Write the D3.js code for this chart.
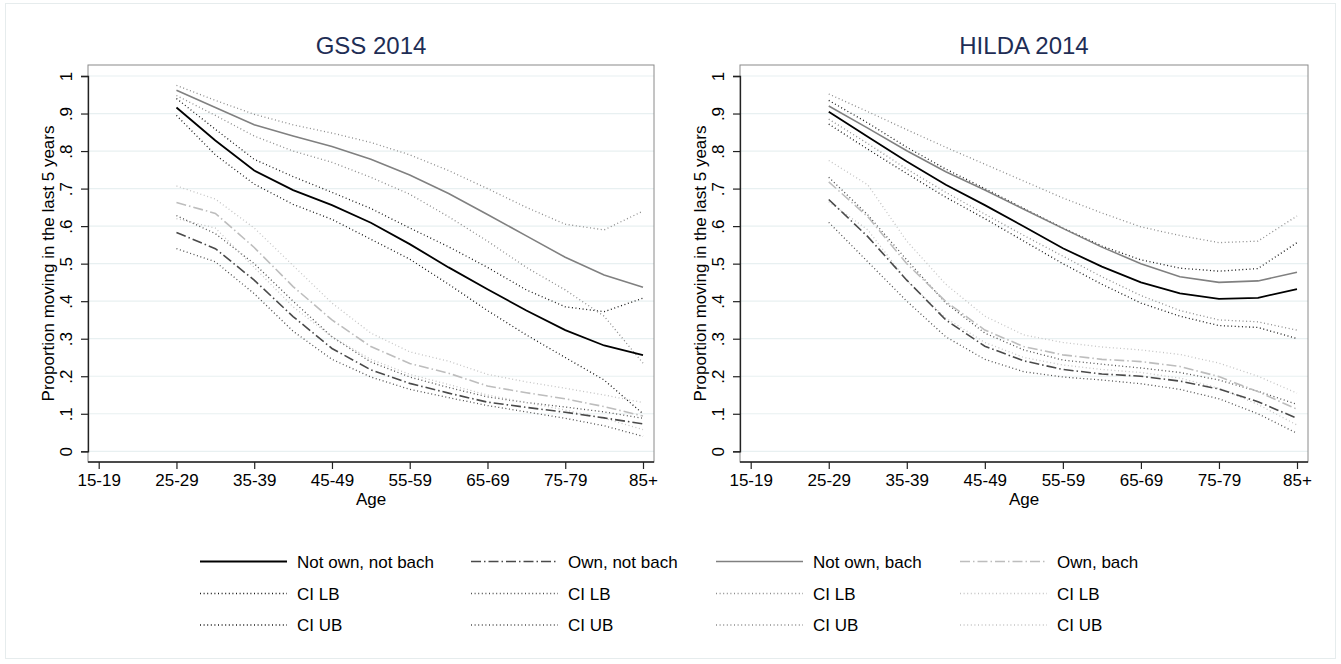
<!DOCTYPE html>
<html>
<head>
<meta charset="utf-8">
<script src="https://cdn.jsdelivr.net/npm/d3@7"></script>
<style>
  html, body { margin: 0; padding: 0; background: #fff; }
  text { font-family: "Liberation Sans", Arial, Helvetica, sans-serif; }
</style>
</head>
<body>
<svg id="chart" width="1341" height="664"></svg>
<script>
// age groups on the x axis (data starts at 25-29)
const ageGroups = ['15-19', '20-24', '25-29', '30-34', '35-39', '40-44', '45-49', '50-54',
  '55-59', '60-64', '65-69', '70-74', '75-79', '80-84', '85+'];
const tickAges = ['15-19', '25-29', '35-39', '45-49', '55-59', '65-69', '75-79', '85+'];
const obsAges = ['25-29', '30-34', '35-39', '40-44', '45-49', '50-54', '55-59',
  '60-64', '65-69', '70-74', '75-79', '80-84', '85+'];
const yTicks = [0, 0.1, 0.2, 0.3, 0.4, 0.5, 0.6, 0.7, 0.8, 0.9, 1];

const seriesNames = ['Not own, not bach', 'Own, not bach', 'Not own, bach', 'Own, bach'];

// GSS 2014
const gssNotOwnNotBach   = [0.916, 0.828, 0.748, 0.696, 0.656, 0.609, 0.552, 0.490, 0.432, 0.375, 0.323, 0.282, 0.256];
const gssNotOwnNotBachLB = [0.895, 0.790, 0.712, 0.658, 0.618, 0.565, 0.512, 0.445, 0.375, 0.310, 0.250, 0.190, 0.100];
const gssNotOwnNotBachUB = [0.940, 0.858, 0.778, 0.732, 0.690, 0.647, 0.595, 0.545, 0.490, 0.430, 0.385, 0.372, 0.408];
const gssOwnNotBach      = [0.583, 0.540, 0.456, 0.359, 0.274, 0.217, 0.181, 0.155, 0.131, 0.117, 0.104, 0.089, 0.073];
const gssOwnNotBachLB    = [0.540, 0.505, 0.420, 0.320, 0.245, 0.198, 0.165, 0.143, 0.122, 0.105, 0.088, 0.068, 0.040];
const gssOwnNotBachUB    = [0.628, 0.580, 0.500, 0.400, 0.305, 0.238, 0.198, 0.170, 0.145, 0.130, 0.118, 0.105, 0.088];
const gssNotOwnBach      = [0.962, 0.916, 0.870, 0.840, 0.812, 0.778, 0.736, 0.687, 0.631, 0.574, 0.517, 0.470, 0.437];
const gssNotOwnBachLB    = [0.948, 0.895, 0.840, 0.800, 0.770, 0.730, 0.685, 0.625, 0.560, 0.490, 0.430, 0.360, 0.235];
const gssNotOwnBachUB    = [0.975, 0.935, 0.898, 0.870, 0.848, 0.823, 0.790, 0.748, 0.700, 0.650, 0.605, 0.590, 0.640];
const gssOwnBach         = [0.663, 0.634, 0.543, 0.439, 0.350, 0.279, 0.234, 0.208, 0.174, 0.156, 0.140, 0.119, 0.094];
const gssOwnBachLB       = [0.620, 0.595, 0.490, 0.385, 0.305, 0.245, 0.205, 0.178, 0.150, 0.130, 0.110, 0.088, 0.058];
const gssOwnBachUB       = [0.707, 0.672, 0.595, 0.495, 0.395, 0.315, 0.265, 0.240, 0.205, 0.185, 0.168, 0.150, 0.130];

// HILDA 2014
const hildaNotOwnNotBach   = [0.905, 0.838, 0.772, 0.710, 0.656, 0.599, 0.541, 0.492, 0.450, 0.421, 0.406, 0.409, 0.432];
const hildaNotOwnNotBachLB = [0.872, 0.805, 0.740, 0.677, 0.620, 0.560, 0.500, 0.445, 0.395, 0.360, 0.335, 0.330, 0.300];
const hildaNotOwnNotBachUB = [0.935, 0.875, 0.810, 0.752, 0.700, 0.647, 0.595, 0.547, 0.510, 0.488, 0.480, 0.487, 0.556];
const hildaOwnNotBach      = [0.671, 0.572, 0.456, 0.350, 0.280, 0.241, 0.218, 0.206, 0.200, 0.187, 0.166, 0.132, 0.088];
const hildaOwnNotBachLB    = [0.610, 0.505, 0.400, 0.305, 0.245, 0.212, 0.198, 0.190, 0.180, 0.165, 0.140, 0.100, 0.048];
const hildaOwnNotBachUB    = [0.730, 0.630, 0.510, 0.395, 0.315, 0.270, 0.243, 0.232, 0.222, 0.210, 0.190, 0.160, 0.125];
const hildaNotOwnBach      = [0.920, 0.861, 0.801, 0.745, 0.696, 0.645, 0.594, 0.544, 0.500, 0.465, 0.450, 0.454, 0.477];
const hildaNotOwnBachLB    = [0.885, 0.820, 0.752, 0.690, 0.632, 0.575, 0.520, 0.465, 0.415, 0.375, 0.350, 0.345, 0.323];
const hildaNotOwnBachUB    = [0.952, 0.905, 0.857, 0.810, 0.765, 0.720, 0.675, 0.635, 0.598, 0.575, 0.556, 0.560, 0.627];
const hildaOwnBach         = [0.718, 0.625, 0.500, 0.399, 0.323, 0.279, 0.257, 0.245, 0.239, 0.226, 0.199, 0.159, 0.112];
const hildaOwnBachLB       = [0.665, 0.590, 0.455, 0.355, 0.290, 0.250, 0.230, 0.218, 0.210, 0.195, 0.168, 0.125, 0.070];
const hildaOwnBachUB       = [0.775, 0.710, 0.560, 0.445, 0.360, 0.310, 0.290, 0.278, 0.270, 0.258, 0.235, 0.200, 0.155];

// styles, one per series (order matches seriesNames)
const lineStyles = [
  { color: '#000000', width: 1.8, dash: null },
  { color: '#4a4a4a', width: 1.6, dash: '10,3,1.5,3' },
  { color: '#808080', width: 1.6, dash: null },
  { color: '#bdbdbd', width: 1.6, dash: '10,3,1.5,3' }
];
const ciColors = ['#1a1a1a', '#505050', '#8c8c8c', '#c4c4c4'];
const ciDash = '1,2.6';
const titleColor = '#1e2d55';
const gridColor = '#e8f0f1';

const panels = [
  {
    title: 'GSS 2014', left: 88, right: 654,
    main: [gssNotOwnNotBach, gssOwnNotBach, gssNotOwnBach, gssOwnBach],
    lb: [gssNotOwnNotBachLB, gssOwnNotBachLB, gssNotOwnBachLB, gssOwnBachLB],
    ub: [gssNotOwnNotBachUB, gssOwnNotBachUB, gssNotOwnBachUB, gssOwnBachUB]
  },
  {
    title: 'HILDA 2014', left: 740, right: 1308,
    main: [hildaNotOwnNotBach, hildaOwnNotBach, hildaNotOwnBach, hildaOwnBach],
    lb: [hildaNotOwnNotBachLB, hildaOwnNotBachLB, hildaNotOwnBachLB, hildaOwnBachLB],
    ub: [hildaNotOwnNotBachUB, hildaOwnNotBachUB, hildaNotOwnBachUB, hildaOwnBachUB]
  }
];

const svg = d3.select('#chart');
const plotTop = 65, plotBottom = 462;

// faint outer border of the figure
svg.append('rect')
  .attr('x', 5.5).attr('y', 3.5)
  .attr('width', 1330).attr('height', 655)
  .attr('fill', 'none')
  .attr('stroke', '#e6eced');

const y = d3.scaleLinear().domain([0, 1]).range([451.3, 76]);
const fmt = v => v === 0 ? '0' : v === 1 ? '1' : '.' + Math.round(v * 10);

panels.forEach(p => {
  const x = d3.scalePoint().domain(ageGroups).range([p.left + 10.7, p.right - 11]);
  const g = svg.append('g');

  // grid lines
  g.append('g').selectAll('line')
    .data(yTicks)
    .enter()
    .append('line')
    .attr('x1', p.left).attr('x2', p.right)
    .attr('y1', d => y(d)).attr('y2', d => y(d))
    .attr('stroke', gridColor)
    .attr('stroke-width', 1.2);

  // plot frame
  g.append('rect')
    .attr('x', p.left).attr('y', plotTop)
    .attr('width', p.right - p.left).attr('height', plotBottom - plotTop)
    .attr('fill', 'none')
    .attr('stroke', '#8a8a8a')
    .attr('stroke-width', 1);

  const line = d3.line()
    .x((d, i) => x(obsAges[i]))
    .y(d => y(d));

  // confidence bounds (dotted)
  p.main.forEach((s, k) => {
    [p.lb[k], p.ub[k]].forEach(b => {
      g.append('path')
        .attr('d', line(b))
        .attr('fill', 'none')
        .attr('stroke', ciColors[k])
        .attr('stroke-width', 1.3)
        .attr('stroke-dasharray', ciDash);
    });
  });

  // main series
  p.main.forEach((s, k) => {
    const st = lineStyles[k];
    g.append('path')
      .attr('d', line(s))
      .attr('fill', 'none')
      .attr('stroke', st.color)
      .attr('stroke-width', st.width)
      .attr('stroke-dasharray', st.dash);
  });

  // y axis
  const yAxis = g.append('g')
    .attr('transform', `translate(${p.left},0)`)
    .call(d3.axisLeft(y).tickValues(yTicks).tickSize(7).tickFormat(fmt));
  yAxis.select('.domain').attr('stroke', '#222').attr('stroke-width', 1.3);
  yAxis.selectAll('.tick line').attr('stroke', '#222').attr('stroke-width', 1.2);
  yAxis.selectAll('.tick text')
    .attr('x', 0).attr('y', 0).attr('dy', null)
    .attr('transform', 'translate(-22,0) rotate(-90)')
    .attr('text-anchor', 'middle')
    .attr('dominant-baseline', 'central')
    .attr('font-size', 17)
    .attr('font-family', '"Liberation Sans", Arial, sans-serif')
    .attr('fill', '#000');

  // x axis
  const xAxis = g.append('g')
    .attr('transform', `translate(0,${plotBottom})`)
    .call(d3.axisBottom(x).tickValues(tickAges).tickSize(7).tickSizeOuter(0));
  xAxis.select('.domain')
    .attr('d', `M${p.left},0H${p.right}`)
    .attr('stroke', '#222').attr('stroke-width', 1.3);
  xAxis.selectAll('.tick line').attr('stroke', '#222').attr('stroke-width', 1.2);
  xAxis.selectAll('.tick text')
    .attr('y', 24).attr('dy', null)
    .attr('font-size', 17)
    .attr('font-family', '"Liberation Sans", Arial, sans-serif')
    .attr('fill', '#000');

  // axis titles
  g.append('text')
    .attr('x', (p.left + p.right) / 2).attr('y', 505)
    .attr('text-anchor', 'middle')
    .attr('font-size', 17)
    .text('Age');

  g.append('text')
    .attr('transform', `translate(${p.left - 40},${(plotTop + plotBottom) / 2}) rotate(-90)`)
    .attr('text-anchor', 'middle')
    .attr('dominant-baseline', 'central')
    .attr('font-size', 17)
    .text('Proportion moving in the last 5 years');

  // panel title
  g.append('text')
    .attr('x', (p.left + p.right) / 2).attr('y', 54)
    .attr('text-anchor', 'middle')
    .attr('font-size', 24)
    .attr('fill', titleColor)
    .text(p.title);
});

// legend: 4 columns x 3 rows (series, CI LB, CI UB)
const legendCols = [200, 471, 716, 960];
const legendRows = [561.5, 593.5, 625];
const legend = svg.append('g');
seriesNames.forEach((name, k) => {
  const lx = legendCols[k];
  const rows = [
    { label: name, color: lineStyles[k].color, width: lineStyles[k].width, dash: lineStyles[k].dash },
    { label: 'CI LB', color: ciColors[k], width: 1.3, dash: ciDash },
    { label: 'CI UB', color: ciColors[k], width: 1.3, dash: ciDash }
  ];
  rows.forEach((r, j) => {
    const ly = legendRows[j];
    legend.append('line')
      .attr('x1', lx).attr('x2', lx + 87)
      .attr('y1', ly).attr('y2', ly)
      .attr('stroke', r.color)
      .attr('stroke-width', r.width)
      .attr('stroke-dasharray', r.dash);
    legend.append('text')
      .attr('x', lx + 97).attr('y', ly + 6)
      .attr('font-size', 17)
      .text(r.label);
  });
});
</script>
</body>
</html>
